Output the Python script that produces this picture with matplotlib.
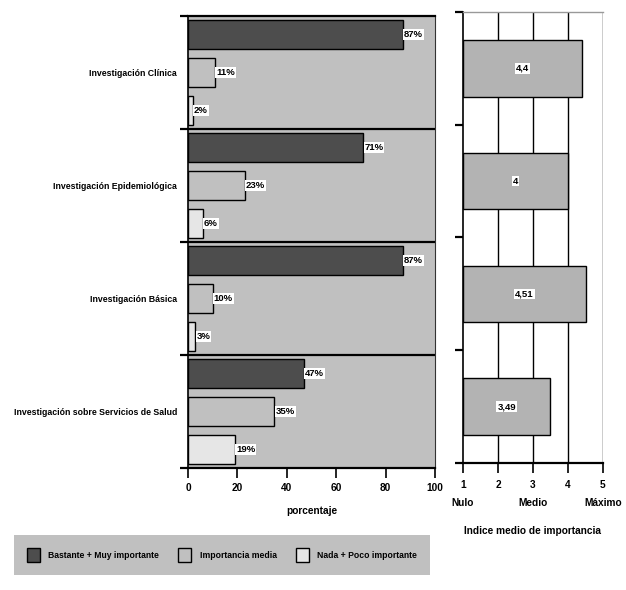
import matplotlib
matplotlib.use("Agg")
import matplotlib.pyplot as plt
from matplotlib.patches import Patch
from matplotlib import font_manager

names = {f.name for f in font_manager.fontManager.ttflist}
base = "Liberation Sans Narrow" if "Liberation Sans Narrow" in names else "Liberation Sans"
narrow = base == "Liberation Sans Narrow"
plt.rcParams['font.family'] = [base, 'DejaVu Sans']
plt.rcParams['font.weight'] = 'bold'

categories = ["Investigación Clínica", "Investigación Epidemiológica",
              "Investigación Básica", "Investigación sobre Servicios de Salud"]
series_names = ["Bastante + Muy importante", "Importancia media", "Nada + Poco importante"]
bastante = [87, 71, 87, 47]
media = [11, 23, 10, 35]
nada = [2, 6, 3, 19]
indice = [4.4, 4.0, 4.51, 3.49]
indice_labels = ["4,4", "4", "4,51", "3,49"]
pct_ticks = [0, 20, 40, 60, 80, 100]
idx_ticks = [1, 2, 3, 4, 5]
idx_ticklabels = ["1\nNulo", "2", "3\nMedio", "4", "5\nMáximo"]

colors = ["#4d4d4d", "#c0c0c0", "#e6e6e6"]
bg = "#c0c0c0"

fs_cat = 7.5 if narrow else 6.3
fs_val = 7.5 if narrow else 6.8
fs_tick = 8 if narrow else 7.3
fs_leg = 7.5 if narrow else 6.2

fig = plt.figure(figsize=(6.26, 5.90), dpi=100)
W, H = 626, 590
ax = fig.add_axes([188 / W, 1 - 468 / H, 247 / W, 452 / H])
ax2 = fig.add_axes([463 / W, 1 - 463 / H, 140 / W, 451 / H])

# left panel: percentages per category
ax.set_facecolor(bg)
series = [bastante, media, nada]
for j, vals in enumerate(series):
    for i, v in enumerate(vals):
        y = i * 3 + j + 0.5
        ax.barh(y, v, height=0.77, color=colors[j], edgecolor="black", linewidth=1.0, zorder=3)
        ax.text(v + 0.4, y, f"{v}%", ha="left", va="center", fontsize=fs_val, fontweight="bold",
                zorder=4, bbox=dict(facecolor="white", edgecolor="none", pad=0.6))
for b in [3, 6, 9]:
    ax.axhline(b, color="black", linewidth=1.6, zorder=2)
ax.set_xlim(0, 100)
ax.set_ylim(12, 0)
ax.set_yticks([0, 3, 6, 9, 12])
ax.set_yticklabels([])
ax.set_yticks([1.5, 4.5, 7.5, 10.5], minor=True)
ax.set_yticklabels(categories, minor=True, fontsize=fs_cat)
ax.tick_params(axis="y", which="minor", length=0, pad=8)
ax.tick_params(axis="y", which="major", length=6, width=1.6)
ax.set_xticks(pct_ticks)
ax.tick_params(axis="x", length=7, width=1.2, labelsize=fs_tick, pad=4)
ax.set_xlabel("porcentaje", fontsize=fs_tick, fontweight="bold", labelpad=9)
for s in ["top", "bottom"]:
    ax.spines[s].set_linewidth(1.6)
ax.spines["left"].set_linewidth(1.2)
ax.spines["right"].set_linewidth(0.8)
ax.spines["right"].set_color("#333333")

# right panel: mean importance index
ax2.set_facecolor("white")
for x in [2, 3, 4, 5]:
    ax2.axvline(x, color="black", linewidth=1.0, zorder=1)
for i, (v, lab) in enumerate(zip(indice, indice_labels)):
    ax2.barh(i + 0.5, v - 1, left=1, height=0.5, color="#b3b3b3", edgecolor="black",
             linewidth=1.0, zorder=3)
    ax2.text((1 + v) / 2, i + 0.5, lab, ha="center", va="center", fontsize=fs_val,
             fontweight="bold", zorder=4,
             bbox=dict(facecolor="white", edgecolor="none", pad=0.6))
ax2.set_xlim(1, 5)
ax2.set_ylim(4, 0)
ax2.set_yticks([0, 1, 2, 3, 4])
ax2.set_yticklabels([])
ax2.tick_params(axis="y", length=6, width=1.6)
ax2.set_xticks(idx_ticks)
ax2.set_xticklabels(idx_ticklabels, fontsize=fs_tick, linespacing=2.0)
ax2.tick_params(axis="x", length=7, width=1.2, pad=5.5)
ax2.set_xlabel("Indice medio de importancia", fontsize=fs_tick, fontweight="bold", labelpad=13)
ax2.spines["right"].set_visible(False)
ax2.spines["top"].set_color("#999999")
ax2.spines["top"].set_linewidth(1.0)
ax2.spines["bottom"].set_linewidth(1.6)
ax2.spines["left"].set_linewidth(1.2)

handles = [Patch(facecolor=c, edgecolor="black", linewidth=1.0) for c in colors]
leg = fig.legend(handles, series_names, loc="center", ncol=3,
                 bbox_to_anchor=(222 / W, 1 - 555 / H), fontsize=fs_leg,
                 frameon=True, facecolor=bg, edgecolor="none", fancybox=False,
                 handlelength=1.5, handleheight=2.3, columnspacing=2.2,
                 borderpad=1.45, borderaxespad=0, handletextpad=1.0)
leg.get_frame().set_alpha(1)

fig.savefig("out.png", dpi=100)
